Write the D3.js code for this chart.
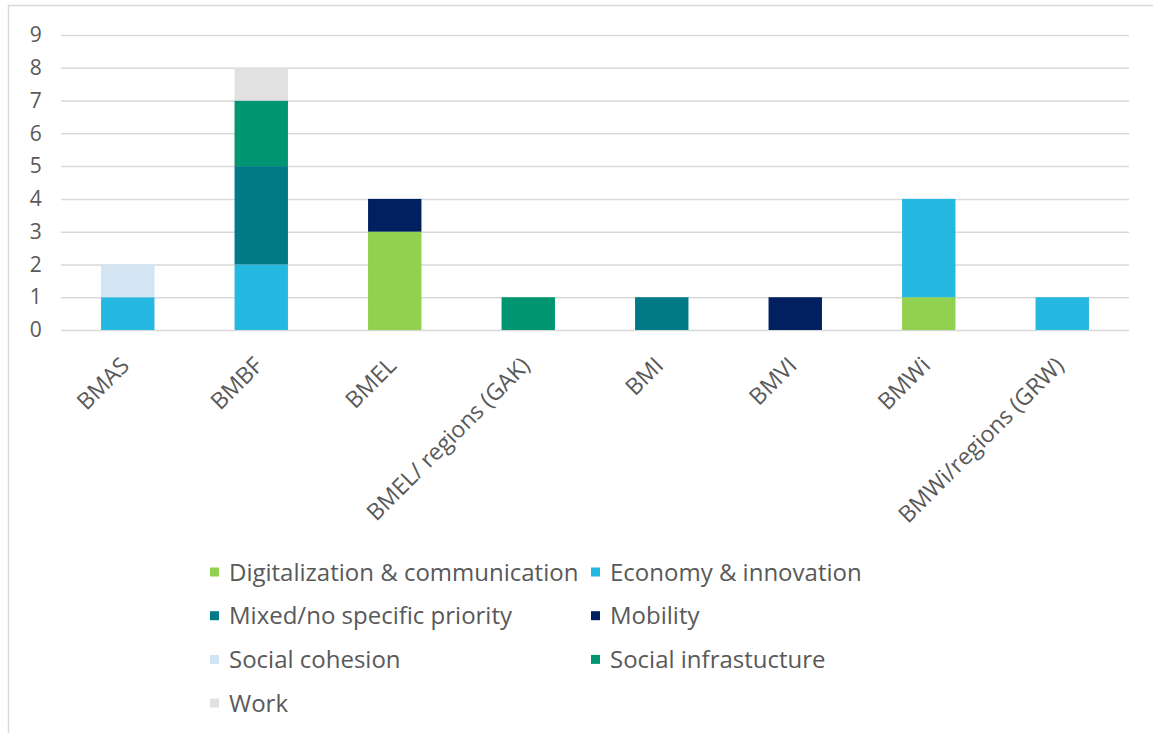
<!DOCTYPE html>
<html lang="en">
<head>
  <meta charset="UTF-8">
  <title>Programmes by ministry and priority</title>
  <script src="https://d3js.org/d3.v7.min.js"></script>
  <style>
    body {
      margin: 0;
      background: #fff;
      font-family: "Open Sans", "Noto Sans", sans-serif;
    }
    svg text {
      font-family: "Open Sans", "Noto Sans", sans-serif;
      fill: #595959;
    }
    .legend text {
      font-size: 24px;
    }
  </style>
</head>
<body>
  <svg width="1153" height="733"></svg>

  <script>
    const ministries = ["BMAS", "BMBF", "BMEL", "BMEL/ regions (GAK)", "BMI", "BMVI", "BMWi", "BMWi/regions (GRW)"];
    const priorities = ["Digitalization & communication", "Economy & innovation", "Mixed/no specific priority",
                        "Mobility", "Social cohesion", "Social infrastucture", "Work"];
    const colors = ["#92d050", "#25b9e1", "#007a87", "#002060", "#d3e5f2", "#009671", "#e0e1e0"];

    // one array per priority, in ministry order
    const digitalization = [0, 0, 3, 0, 0, 0, 1, 0];
    const economy        = [1, 2, 0, 0, 0, 0, 3, 1];
    const mixed          = [0, 3, 0, 0, 1, 0, 0, 0];
    const mobility       = [0, 0, 1, 0, 0, 1, 0, 0];
    const cohesion       = [1, 0, 0, 0, 0, 0, 0, 0];
    const infrastructure = [0, 2, 0, 1, 0, 0, 0, 0];
    const work           = [0, 1, 0, 0, 0, 0, 0, 0];
    const yTicks = [0, 1, 2, 3, 4, 5, 6, 7, 8, 9];

    const seriesValues = [digitalization, economy, mixed, mobility, cohesion, infrastructure, work];
    const rows = ministries.map((m, i) => {
      const r = { ministry: m };
      priorities.forEach((p, j) => r[p] = seriesValues[j][i]);
      return r;
    });

    const svg = d3.select("svg");

    // outer frame (top + left edge as in the source)
    svg.append("path")
      .attr("d", "M8.5,733 V5.5 H1153")
      .attr("fill", "none")
      .attr("stroke", "#d9d9d9")
      .attr("stroke-width", 1.5);

    const x = d3.scaleBand().domain(ministries).range([61, 1129]).paddingInner(0.6).paddingOuter(0.3);
    const y = d3.scaleLinear().domain([0, 9]).range([330, 35]);
    const color = d3.scaleOrdinal().domain(priorities).range(colors);

    // gridlines + y labels
    const yAxis = svg.append("g")
      .attr("transform", "translate(61,0)")
      .call(d3.axisLeft(y).tickValues(yTicks).tickSize(-(1129 - 61)).tickPadding(20));
    yAxis.attr("font-family", null);
    yAxis.select(".domain").remove();
    yAxis.selectAll(".tick line").attr("stroke", "#d9d9d9").attr("stroke-width", 1.5);
    yAxis.selectAll(".tick text").attr("font-size", 21).attr("text-anchor", "middle").attr("dx", "-0.25em");

    const stack = d3.stack().keys(priorities)(rows);

    svg.append("g").selectAll("g")
      .data(stack)
      .join("g")
      .attr("fill", d => color(d.key))
      .selectAll("rect")
      .data(d => d.filter(s => s[1] > s[0]))
      .join("rect")
      .attr("x", d => x(d.data.ministry))
      .attr("width", x.bandwidth())
      .attr("y", d => y(d[1]))
      .attr("height", d => y(d[0]) - y(d[1]));

    // category axis with rotated labels
    const xAxis = svg.append("g")
      .attr("transform", `translate(0,${y(0)})`)
      .call(d3.axisBottom(x).tickSize(0).tickPadding(0));
    xAxis.attr("font-family", null);
    xAxis.select(".domain").remove();
    xAxis.selectAll(".tick text")
      .attr("font-size", 23)
      .attr("text-anchor", "end")
      .attr("dy", null)
      .attr("y", 0)
      .attr("transform", "translate(3,37) rotate(-45)");

    // legend, two columns
    const legend = svg.append("g").attr("class", "legend");
    const item = legend.selectAll("g")
      .data(priorities)
      .join("g")
      .attr("transform", (d, i) => `translate(${i % 2 ? 591 : 210},${572 + Math.floor(i / 2) * 43.7})`);
    item.append("rect")
      .attr("x", 0).attr("y", -4.5)
      .attr("width", 9).attr("height", 9)
      .attr("fill", d => color(d));
    item.append("text")
      .attr("x", 19)
      .attr("dy", "0.36em")
      .text(d => d);
  </script>
</body>
</html>
